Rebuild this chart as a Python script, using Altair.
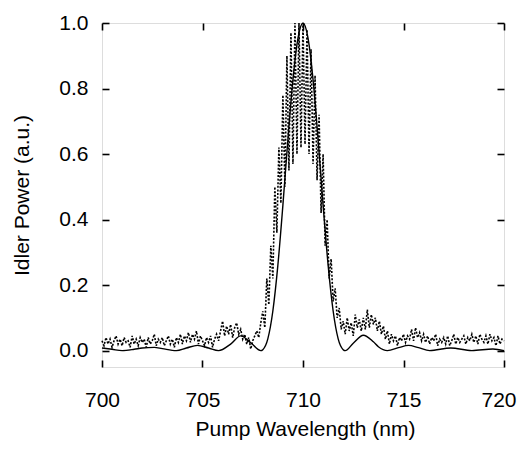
import altair as alt
import pandas as pd

# ---------------- data ----------------
# measured idler power, sampled every 0.1 nm from 700.0 nm to 720.0 nm
meas_start = 700.0
meas_step = 0.1
measured = [
    0.03, 0.015, 0.04, 0.02, 0.035, 0.01, 0.03, 0.045, 0.02, 0.035,      # 700
    0.015, 0.04, 0.025, 0.03, 0.01, 0.045, 0.02, 0.035, 0.015, 0.04,     # 701
    0.025, 0.035, 0.01, 0.04, 0.02, 0.03, 0.05, 0.015, 0.035, 0.025,     # 702
    0.04, 0.015, 0.03, 0.045, 0.02, 0.035, 0.01, 0.04, 0.025, 0.05,      # 703
    0.02, 0.045, 0.03, 0.055, 0.025, 0.05, 0.035, 0.06, 0.02, 0.045,     # 704
    0.03, 0.015, 0.04, 0.025, 0.045, 0.01, 0.035, 0.05, 0.03, 0.06,      # 705
    0.09, 0.045, 0.075, 0.05, 0.08, 0.04, 0.07, 0.085, 0.05, 0.065,      # 706
    0.035, 0.05, 0.02, 0.04, 0.005, 0.03, 0.045, 0.06, 0.04, 0.085,      # 707
    0.12, 0.07, 0.22, 0.14, 0.32, 0.22, 0.5, 0.36, 0.62, 0.45,           # 708
    0.78, 0.5, 0.9, 0.55, 0.97, 0.57, 1.0, 0.6, 1.0, 0.62,               # 709
    1.0, 0.63, 0.98, 0.6, 0.92, 0.57, 0.84, 0.52, 0.72, 0.42,            # 710
    0.6, 0.32, 0.4, 0.22, 0.28, 0.15, 0.19, 0.1, 0.13, 0.065,            # 711
    0.09, 0.05, 0.1, 0.06, 0.085, 0.045, 0.11, 0.07, 0.095, 0.06,        # 712
    0.1, 0.065, 0.125, 0.07, 0.11, 0.08, 0.1, 0.06, 0.09, 0.05,          # 713
    0.075, 0.035, 0.06, 0.02, 0.05, 0.03, 0.045, 0.015, 0.04, 0.03,      # 714
    0.05, 0.025, 0.045, 0.035, 0.065, 0.03, 0.07, 0.04, 0.055, 0.03,     # 715
    0.05, 0.025, 0.045, 0.02, 0.04, 0.03, 0.05, 0.015, 0.035, 0.025,     # 716
    0.04, 0.02, 0.045, 0.015, 0.03, 0.05, 0.02, 0.04, 0.025, 0.035,      # 717
    0.045, 0.02, 0.04, 0.03, 0.05, 0.025, 0.045, 0.02, 0.05, 0.035,      # 718
    0.025, 0.045, 0.02, 0.05, 0.03, 0.04, 0.015, 0.045, 0.02, 0.035,     # 719
    0.03,                                                                # 720
]

# theoretical curve (solid line)
fit_wl = [700.0, 700.5, 701.0, 701.6, 702.0, 702.6, 703.0, 703.7, 704.2, 704.75,
          705.3, 705.8, 706.4, 706.9, 707.4, 707.9, 708.0, 708.25, 708.5, 708.75,
          709.0, 709.25, 709.5, 709.75, 710.0, 710.25, 710.5, 710.75, 711.0, 711.25,
          711.5, 711.75, 712.0, 712.1, 712.5, 713.0, 713.5, 713.75, 714.2, 714.75,
          715.25, 715.75, 716.3, 717.35, 718.4, 719.45, 720.0]
fit_power = [0.008, 0.004, 0.0, 0.004, 0.008, 0.01, 0.006, 0.0, 0.008, 0.016,
             0.008, 0.0, 0.02, 0.045, 0.024, 0.0, 0.003, 0.036, 0.121, 0.261,
             0.444, 0.645, 0.827, 0.954, 1.0, 0.954, 0.827, 0.645, 0.444, 0.261,
             0.121, 0.036, 0.003, 0.0, 0.0226, 0.047, 0.027, 0.012, 0.0, 0.009,
             0.016, 0.009, 0.0, 0.008, 0.0, 0.005, 0.0]

x_ticks = [700, 705, 710, 715, 720]
y_ticks = [0.0, 0.2, 0.4, 0.6, 0.8, 1.0]

meas_df = pd.DataFrame({
    "wl": [round(meas_start + meas_step * i, 2) for i in range(len(measured))],
    "p": measured,
})
fit_df = pd.DataFrame({"wl": fit_wl, "p": fit_power})

FONT = "Liberation Sans"
W, H = 402, 344
PX_PER_NM = W / 20.0
# bottom-axis scale: same mapping as [700, 720] -> [0, W], but its range starts
# one nm to the left so that only the 720 label gets flush-adjusted
xs_bottom = alt.Scale(domain=[699, 720], range=[-PX_PER_NM, W], nice=False, zero=False)
xs = alt.Scale(domain=[700, 720], nice=False, zero=False)
ys = alt.Scale(domain=[-0.05, 1.0], nice=False, zero=False)

tick_common = dict(domain=False, grid=False, ticks=True, tickSize=7, tickWidth=1.6,
                   tickColor="black", offset=-7)

fit = alt.Chart(fit_df).mark_line(color="black", strokeWidth=1.4, interpolate="monotone").encode(
    x=alt.X("wl:Q", scale=xs_bottom, axis=alt.Axis(
        orient="bottom", values=x_ticks, title="Pump Wavelength (nm)", format="d",
        labelFont=FONT, labelFontSize=21, labelColor="black", labelPadding=22,
        labelFlush=1, labelFlushOffset=12,
        titleFont=FONT, titleFontSize=21, titleFontWeight="normal", titleColor="black",
        titlePadding=8, titleX=203, **tick_common)),
    y=alt.Y("p:Q", scale=ys, axis=alt.Axis(
        orient="left", values=y_ticks, title="Idler Power (a.u.)", format=".1f",
        labelFont=FONT, labelFontSize=21, labelColor="black", labelPadding=14,
        titleFont=FONT, titleFontSize=21, titleFontWeight="normal", titleColor="black",
        titlePadding=26, **tick_common)),
)

meas = alt.Chart(meas_df).mark_line(color="black", strokeWidth=1.6, strokeDash=[2, 1.6]).encode(
    x=alt.X("wl:Q", scale=xs, axis=alt.Axis(orient="top", values=x_ticks, labels=False, title="",
                                            **tick_common)),
    y=alt.Y("p:Q", scale=ys, axis=alt.Axis(orient="right", values=y_ticks, labels=False, title="",
                                           **tick_common)),
)

chart = alt.layer(fit, meas).resolve_scale(x="independent").resolve_axis(
    x="independent", y="independent"
).properties(
    width=W, height=H,
    autosize=alt.AutoSizeParams(type="none"),
    padding={"left": 94, "top": 15, "right": 13, "bottom": 74},
).configure_view(stroke="black", strokeWidth=1.8).configure(background="white")

chart.save("out.html", embed_options={"renderer": "svg", "actions": False})
